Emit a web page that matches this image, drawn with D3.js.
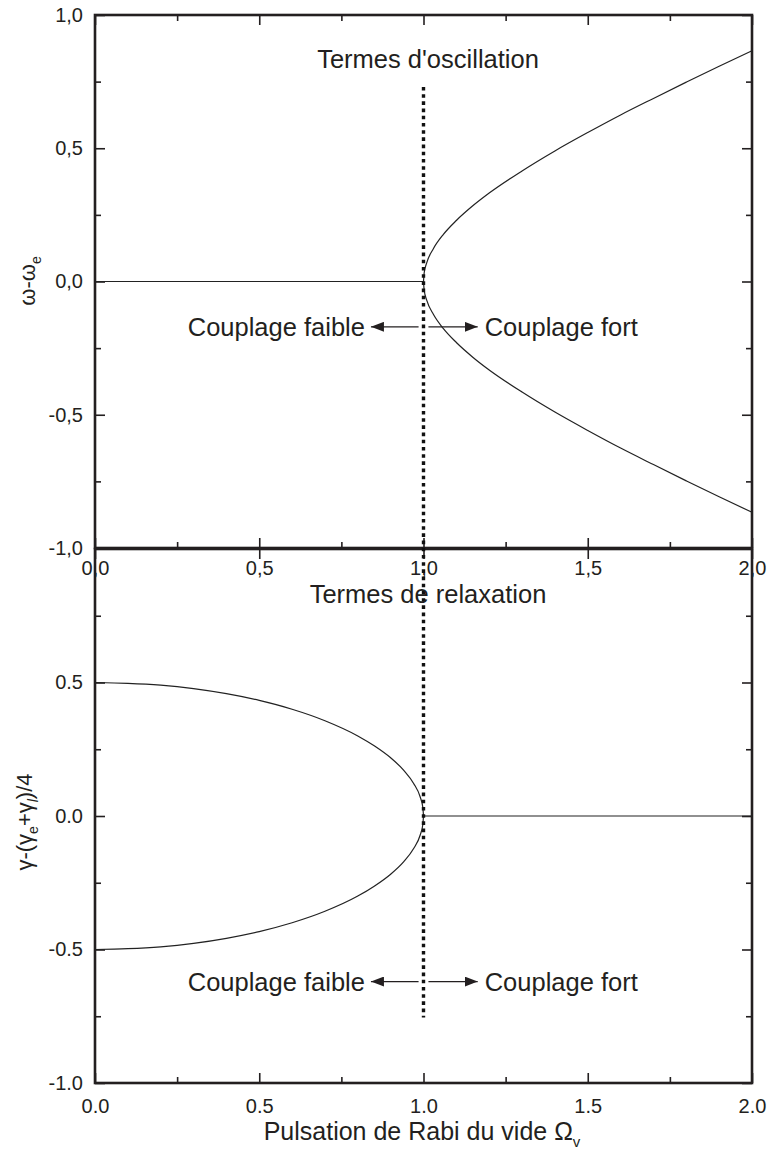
<!DOCTYPE html>
<html>
<head>
<meta charset="utf-8">
<script src="https://cdn.jsdelivr.net/npm/d3@7"></script>
<style>
  html, body { margin: 0; padding: 0; background: #fff; }
  svg { display: block; font-family: "Liberation Sans", Arial, Helvetica, sans-serif; }
</style>
</head>
<body>
<svg id="chart" width="771" height="1153"></svg>
<script>
// ---------- DATA ----------
// Top panel: "Termes d'oscillation" (omega - omega_e)
const oscFlatX = [0.0, 1.0];
const oscFlatY = [0.0, 0.0];
const oscBranchX = [1.000, 1.002, 1.010, 1.030, 1.060, 1.100, 1.150, 1.200, 1.300, 1.400, 1.500, 1.600, 1.700, 1.800, 1.900, 2.000];
const oscUpperY  = [0.000, 0.032, 0.071, 0.123, 0.176, 0.229, 0.284, 0.332, 0.415, 0.490, 0.559, 0.625, 0.687, 0.748, 0.808, 0.866];
const oscLowerY  = [0.000, -0.032, -0.071, -0.123, -0.176, -0.229, -0.284, -0.332, -0.415, -0.490, -0.559, -0.625, -0.687, -0.748, -0.808, -0.866];

// Bottom panel: "Termes de relaxation" (gamma - (gamma_e+gamma_l)/4)
const relBranchX = [0.000, 0.100, 0.200, 0.300, 0.400, 0.500, 0.600, 0.700, 0.800, 0.850, 0.900, 0.940, 0.970, 0.990, 0.998, 1.000];
const relUpperY  = [0.500, 0.497, 0.490, 0.477, 0.458, 0.433, 0.400, 0.357, 0.300, 0.263, 0.218, 0.171, 0.122, 0.071, 0.032, 0.000];
const relLowerY  = [-0.500, -0.497, -0.490, -0.477, -0.458, -0.433, -0.400, -0.357, -0.300, -0.263, -0.218, -0.171, -0.122, -0.071, -0.032, 0.000];
const relFlatX = [1.0, 2.0];
const relFlatY = [0.0, 0.0];

// Dotted separator at Omega_v = 1 (top value in top panel, bottom value in bottom panel)
const sepX = 1.0;
const sepTopY = 0.73;
const sepBottomY = -0.755;

// Annotations
const arrowYTop = -0.17;
const arrowYBottom = -0.62;
const arrowLeftX = [0.985, 0.84];
const arrowRightX = [1.015, 1.165];

// Ticks
const xMajor = [0.0, 0.5, 1.0, 1.5, 2.0];
const xMinor = [0.25, 0.75, 1.25, 1.75];
const yMajorTop = [-1.0, -0.5, 0.0, 0.5, 1.0];
const yMajorBottom = [-1.0, -0.5, 0.0, 0.5];
const yMinor = [-0.75, -0.25, 0.25, 0.75];
const topTickLabels = ["0,0", "0,5", "1,0", "1,5", "2,0"];
const topYTickLabels = ["-1,0", "-0,5", "0,0", "0,5", "1,0"];
const bottomTickLabels = ["0.0", "0.5", "1.0", "1.5", "2.0"];
const bottomYTickLabels = ["-1.0", "-0.5", "0.0", "0.5"];

// ---------- LAYOUT ----------
const svg = d3.select("#chart");
const L = 95, R = 752;
const topPanel = { y0: 15, y1: 548 };
const botPanel = { y0: 549, y1: 1083 };
const ink = "#231f20";

const x = d3.scaleLinear().domain([0, 2]).range([L, R]);
const yT = d3.scaleLinear().domain([-1, 1]).range([topPanel.y1, topPanel.y0]);
const yB = d3.scaleLinear().domain([-1, 1]).range([botPanel.y1, botPanel.y0]);

function frame(y, yMaj, yLabels, xLabels, xPad, showTopMajorOnly) {
  const g = svg.append("g");
  const y0 = y.range()[1], y1 = y.range()[0];
  const minorLen = 6, majorLen = 10;
  const fmtY = (d) => yLabels[yMaj.indexOf(d)];
  const fmtX = (d) => xLabels[xMajor.indexOf(d)];
  g.append("g").attr("transform", `translate(${L},0)`)
    .call(d3.axisLeft(y).tickValues(yMaj).tickSize(-majorLen).tickPadding(12).tickFormat(fmtY));
  g.append("g").attr("transform", `translate(${L},0)`)
    .call(d3.axisLeft(y).tickValues(yMinor).tickSize(-minorLen).tickFormat(""));
  g.append("g").attr("transform", `translate(${R},0)`)
    .call(d3.axisRight(y).tickValues(yMaj).tickSize(-majorLen).tickFormat(""));
  g.append("g").attr("transform", `translate(${R},0)`)
    .call(d3.axisRight(y).tickValues(yMinor).tickSize(-minorLen).tickFormat(""));
  g.append("g").attr("transform", `translate(0,${y1})`)
    .call(d3.axisBottom(x).tickValues(xMajor).tickSize(-majorLen).tickPadding(xPad).tickFormat(fmtX));
  g.append("g").attr("transform", `translate(0,${y1})`)
    .call(d3.axisBottom(x).tickValues(xMinor).tickSize(-minorLen).tickFormat(""));
  g.append("g").attr("transform", `translate(0,${y0})`)
    .call(d3.axisTop(x).tickValues(xMajor).tickSize(-majorLen).tickFormat(""));
  if (!showTopMajorOnly) {
    g.append("g").attr("transform", `translate(0,${y0})`)
      .call(d3.axisTop(x).tickValues(xMinor).tickSize(-minorLen).tickFormat(""));
  }
  g.selectAll(".domain").remove();
  g.selectAll(".tick line").attr("stroke", ink).attr("stroke-width", 1.6);
  g.selectAll(".tick text").attr("fill", ink).style("font-size", "20px")
    .style("font-family", '"Liberation Sans", Arial, sans-serif');
  g.append("rect").attr("x", L).attr("y", y0).attr("width", R - L).attr("height", y1 - y0)
    .attr("fill", "none").attr("stroke", ink).attr("stroke-width", 2.6);
  return g;
}

frame(yT, yMajorTop, topYTickLabels, topTickLabels, 13, false);
frame(yB, yMajorBottom, bottomYTickLabels, bottomTickLabels, 16, true);

// ---------- CURVES ----------
const lineStyle = (p) => p.attr("fill", "none").attr("stroke", "#222").attr("stroke-width", 1.2);
const mk = (xs, ys) => xs.map((v, i) => [v, ys[i]]);
const lineT = d3.line().x(d => x(d[0])).y(d => yT(d[1])).curve(d3.curveMonotoneX);
const lineB = d3.line().x(d => x(d[0])).y(d => yB(d[1])).curve(d3.curveMonotoneX);

svg.append("path").datum(mk(oscFlatX, oscFlatY)).attr("d", lineT).call(lineStyle);
svg.append("path").datum(mk(oscBranchX, oscUpperY)).attr("d", lineT).call(lineStyle);
svg.append("path").datum(mk(oscBranchX, oscLowerY)).attr("d", lineT).call(lineStyle);
svg.append("path").datum(mk(relBranchX, relUpperY)).attr("d", lineB).call(lineStyle);
svg.append("path").datum(mk(relBranchX, relLowerY)).attr("d", lineB).call(lineStyle);
svg.append("path").datum(mk(relFlatX, relFlatY)).attr("d", lineB).call(lineStyle);

// dotted separator
svg.append("line")
  .attr("x1", x(sepX)).attr("x2", x(sepX))
  .attr("y1", yT(sepTopY)).attr("y2", yB(sepBottomY))
  .attr("stroke", "#111").attr("stroke-width", 3.4).attr("stroke-dasharray", "3.6,3.6");

// ---------- ARROWS & TEXT ----------
const defs = svg.append("defs");
defs.append("marker").attr("id", "ah").attr("viewBox", "0 0 13 10")
  .attr("refX", 13).attr("refY", 5).attr("markerWidth", 13).attr("markerHeight", 10)
  .attr("markerUnits", "userSpaceOnUse").attr("orient", "auto")
  .append("path").attr("d", "M0,0 L13,5 L0,10 Z").attr("fill", ink);

const annFont = "25.5px";
function annot(yScale, yv) {
  const yy = yScale(yv);
  svg.append("line").attr("x1", x(arrowLeftX[0])).attr("x2", x(arrowLeftX[1]))
    .attr("y1", yy).attr("y2", yy).attr("stroke", ink).attr("stroke-width", 1.2)
    .attr("marker-end", "url(#ah)");
  svg.append("line").attr("x1", x(arrowRightX[0])).attr("x2", x(arrowRightX[1]))
    .attr("y1", yy).attr("y2", yy).attr("stroke", ink).attr("stroke-width", 1.2)
    .attr("marker-end", "url(#ah)");
  svg.append("text").attr("x", x(arrowLeftX[1]) - 6).attr("y", yy + 9)
    .attr("text-anchor", "end").attr("fill", ink).style("font-size", annFont)
    .text("Couplage faible");
  svg.append("text").attr("x", x(arrowRightX[1]) + 7).attr("y", yy + 9)
    .attr("text-anchor", "start").attr("fill", ink).style("font-size", annFont)
    .text("Couplage fort");
}
annot(yT, arrowYTop);
annot(yB, arrowYBottom);

// panel titles
svg.append("text").attr("x", 428).attr("y", 68).attr("text-anchor", "middle")
  .attr("fill", ink).style("font-size", annFont).text("Termes d'oscillation");
svg.append("text").attr("x", 428).attr("y", 603).attr("text-anchor", "middle")
  .attr("fill", ink).style("font-size", annFont).text("Termes de relaxation");

// x axis label
const xl = svg.append("text").attr("x", 422).attr("y", 1140).attr("text-anchor", "middle")
  .attr("fill", ink).style("font-size", "25px");
xl.append("tspan").text("Pulsation de Rabi du vide Ω");
xl.append("tspan").attr("dy", 7).style("font-size", "15px").text("v");

// y axis labels
const yl1 = svg.append("text").attr("transform", `translate(35,${281}) rotate(-90)`)
  .attr("text-anchor", "middle").attr("fill", ink).style("font-size", "22px");
yl1.append("tspan").text("ω-ω");
yl1.append("tspan").attr("dy", 6).style("font-size", "14px").text("e");

const yl2 = svg.append("text").attr("transform", `translate(32,${822}) rotate(-90)`)
  .attr("text-anchor", "middle").attr("fill", ink).style("font-size", "22px");
yl2.append("tspan").text("γ-(γ");
yl2.append("tspan").attr("dy", 6).style("font-size", "14px").text("e");
yl2.append("tspan").attr("dy", -6).text("+γ");
yl2.append("tspan").attr("dy", 6).style("font-size", "14px").style("font-style", "italic").text("l");
yl2.append("tspan").attr("dy", -6).text(")/4");
</script>
</body>
</html>
